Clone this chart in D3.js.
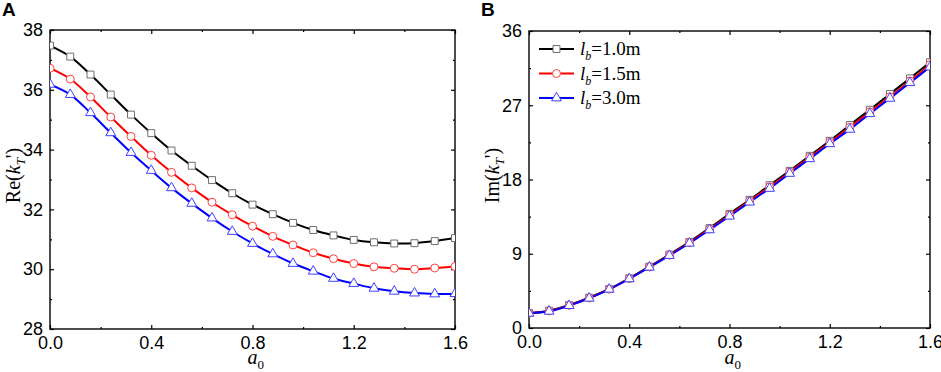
<!DOCTYPE html>
<html>
<head>
<meta charset="utf-8">
<script src="https://cdn.jsdelivr.net/npm/d3@7"></script>
<style>
  body { margin: 0; background: #fff; }
  svg { display: block; }
  .tick text { font-family: "Liberation Sans", Arial, sans-serif; font-size: 18px; fill: #000; }
</style>
</head>
<body>
<div id="chart"></div>
<script>
// a0 values (marker positions)
const a0 = [0, 0.08, 0.16, 0.24, 0.32, 0.40, 0.48, 0.56, 0.64, 0.72, 0.80,
            0.88, 0.96, 1.04, 1.12, 1.20, 1.28, 1.36, 1.44, 1.52, 1.60];

// Panel A: Re(kT')
const reLb10 = [37.48, 37.11, 36.51, 35.84, 35.17, 34.55, 33.97, 33.46, 32.98, 32.54, 32.16,
                31.84, 31.55, 31.31, 31.13, 30.98, 30.90, 30.86, 30.87, 30.94, 31.04];
const reLb15 = [36.72, 36.36, 35.76, 35.09, 34.44, 33.81, 33.24, 32.72, 32.24, 31.82, 31.44,
                31.10, 30.81, 30.55, 30.35, 30.19, 30.08, 30.03, 30.00, 30.04, 30.09];
const reLb30 = [36.18, 35.84, 35.23, 34.56, 33.90, 33.30, 32.72, 32.20, 31.71, 31.26, 30.86,
                30.51, 30.19, 29.93, 29.69, 29.52, 29.36, 29.26, 29.20, 29.17, 29.18];

// Panel B: Im(kT')
const imLb10 = [1.82, 2.10, 2.79, 3.68, 4.73, 6.03, 7.44, 8.90, 10.44, 12.10, 13.83,
                15.53, 17.31, 19.05, 20.87, 22.69, 24.60, 26.46, 28.36, 30.26, 32.20];
const imLb15 = [1.80, 2.06, 2.75, 3.64, 4.71, 5.99, 7.40, 8.84, 10.35, 12.00, 13.69,
                15.39, 17.11, 18.89, 20.69, 22.51, 24.33, 26.21, 28.03, 29.94, 31.92];
const imLb30 = [1.78, 2.02, 2.71, 3.60, 4.69, 5.95, 7.36, 8.78, 10.27, 11.89, 13.55,
                15.25, 16.91, 18.73, 20.51, 22.33, 24.07, 25.97, 27.83, 29.73, 31.63];

const seriesNames = ["1.0m", "1.5m", "3.0m"];
const lineColors = ["#000000", "#ff0000", "#0000ff"];
const markerColors = ["#6e6e6e", "#ff4040", "#4040ff"];
const markerTypes = [d3.symbolSquare, d3.symbolCircle, d3.symbolTriangle];
const markerSizes = [48, 50, 42];

const xTicks = [0, 0.4, 0.8, 1.2, 1.6];
const reTicks = [28, 30, 32, 34, 36, 38];
const imTicks = [0, 9, 18, 27, 36];

const svg = d3.select("#chart").append("svg")
  .attr("width", 941)
  .attr("height", 372);

function drawPanel(opts) {
  const { left, right, top, bottom, yDomain, yTicks, series, letter, yLabel } = opts;
  const g = svg.append("g");

  const x = d3.scaleLinear().domain([0, 1.6]).range([left, right]);
  const y = d3.scaleLinear().domain(yDomain).range([bottom, top]);

  const yStep = yTicks[1] - yTicks[0];
  const xMinor = d3.range(0.2, 1.6, 0.4);
  const yMinor = yTicks.slice(0, -1).map(v => v + yStep / 2);

  // bottom axis with labels
  g.append("g")
    .attr("transform", `translate(0,${bottom})`)
    .call(d3.axisBottom(x).tickValues(xTicks).tickFormat(d3.format(".1f"))
      .tickSizeInner(-4).tickSizeOuter(0).tickPadding(7))
    .call(a => a.select(".domain").remove());
  g.append("g")
    .attr("transform", `translate(0,${bottom})`)
    .call(d3.axisBottom(x).tickValues(xMinor).tickFormat("").tickSizeInner(-2).tickSizeOuter(0))
    .call(a => a.select(".domain").remove());
  // top ticks
  g.append("g")
    .attr("transform", `translate(0,${top})`)
    .call(d3.axisTop(x).tickValues(xTicks).tickFormat("").tickSizeInner(-4).tickSizeOuter(0))
    .call(a => a.select(".domain").remove());
  g.append("g")
    .attr("transform", `translate(0,${top})`)
    .call(d3.axisTop(x).tickValues(xMinor).tickFormat("").tickSizeInner(-2).tickSizeOuter(0))
    .call(a => a.select(".domain").remove());

  // left axis with labels
  g.append("g")
    .attr("transform", `translate(${left},0)`)
    .call(d3.axisLeft(y).tickValues(yTicks).tickFormat(d3.format("d"))
      .tickSizeInner(-4).tickSizeOuter(0).tickPadding(7))
    .call(a => a.select(".domain").remove());
  g.append("g")
    .attr("transform", `translate(${left},0)`)
    .call(d3.axisLeft(y).tickValues(yMinor).tickFormat("").tickSizeInner(-2).tickSizeOuter(0))
    .call(a => a.select(".domain").remove());
  // right ticks
  g.append("g")
    .attr("transform", `translate(${right},0)`)
    .call(d3.axisRight(y).tickValues(yTicks).tickFormat("").tickSizeInner(-4).tickSizeOuter(0))
    .call(a => a.select(".domain").remove());
  g.append("g")
    .attr("transform", `translate(${right},0)`)
    .call(d3.axisRight(y).tickValues(yMinor).tickFormat("").tickSizeInner(-2).tickSizeOuter(0))
    .call(a => a.select(".domain").remove());

  g.selectAll(".tick line").attr("stroke", "#000").attr("stroke-width", 1.2);

  // frame
  g.append("rect")
    .attr("x", left).attr("y", top)
    .attr("width", right - left).attr("height", bottom - top)
    .attr("fill", "none").attr("stroke", "#000").attr("stroke-width", 1.4);

  // clip for the curves
  const clipId = "clip-" + letter;
  g.append("clipPath").attr("id", clipId)
    .append("rect").attr("x", left).attr("y", top)
    .attr("width", right - left).attr("height", bottom - top);

  const line = d3.line()
    .x((d, i) => x(a0[i]))
    .y(d => y(d))
    .curve(d3.curveCatmullRom.alpha(0.5));

  const plot = g.append("g").attr("clip-path", `url(#${clipId})`);

  series.forEach((vals, s) => {
    plot.append("path")
      .datum(vals)
      .attr("d", line)
      .attr("fill", "none")
      .attr("stroke", lineColors[s])
      .attr("stroke-width", 2);
  });
  series.forEach((vals, s) => {
    plot.selectAll(null)
      .data(vals)
      .enter().append("path")
      .attr("transform", (d, i) => `translate(${x(a0[i])},${y(d)})`)
      .attr("d", d3.symbol().type(markerTypes[s]).size(markerSizes[s]))
      .attr("fill", "#fff")
      .attr("stroke", markerColors[s])
      .attr("stroke-width", 1);
  });

  // panel letter
  g.append("text")
    .attr("x", left - 48)
    .attr("y", 16)
    .style("font-family", "'Liberation Sans', Arial, sans-serif")
    .style("font-weight", "bold")
    .style("font-size", "19px")
    .text(letter);

  // x axis title: a0
  const xt = g.append("text")
    .attr("x", (left + right) / 2 - 5)
    .attr("y", 364)
    .style("font-family", "'Liberation Serif', 'Times New Roman', serif")
    .style("font-size", "20px");
  xt.append("tspan").style("font-style", "italic").text("a");
  xt.append("tspan").attr("dy", 5).style("font-size", "13px").text("0");

  // y axis title
  const yt = g.append("text")
    .attr("transform", `translate(${left - 30},${(top + bottom) / 2 - 4}) rotate(-90)`)
    .attr("text-anchor", "middle")
    .style("font-family", "'Liberation Serif', 'Times New Roman', serif")
    .style("font-size", "20px");
  yt.append("tspan").text(yLabel + "(");
  yt.append("tspan").style("font-style", "italic").text("k");
  yt.append("tspan").attr("dy", 5).style("font-style", "italic").style("font-size", "13px").text("T");
  yt.append("tspan").attr("dy", -5).text("')");

  return { g, x, y };
}

drawPanel({
  left: 50, right: 455, top: 30, bottom: 329,
  yDomain: [28, 38], yTicks: reTicks,
  series: [reLb10, reLb15, reLb30], letter: "A", yLabel: "Re"
});

const pB = drawPanel({
  left: 529, right: 930, top: 31, bottom: 328,
  yDomain: [0, 36], yTicks: imTicks,
  series: [imLb10, imLb15, imLb30], letter: "B", yLabel: "Im"
});

// legend in panel B
const legend = pB.g.append("g");
seriesNames.forEach((name, s) => {
  const ly = 49 + s * 24.5;
  legend.append("line")
    .attr("x1", 539).attr("x2", 574).attr("y1", ly).attr("y2", ly)
    .attr("stroke", lineColors[s]).attr("stroke-width", 2);
  legend.append("path")
    .attr("transform", `translate(556.5,${ly})`)
    .attr("d", d3.symbol().type(markerTypes[s]).size(markerSizes[s]))
    .attr("fill", "#fff").attr("stroke", markerColors[s]).attr("stroke-width", 1);
  const t = legend.append("text")
    .attr("x", 580).attr("y", ly + 6)
    .style("font-family", "'Liberation Serif', 'Times New Roman', serif")
    .style("font-size", "19px");
  t.append("tspan").style("font-style", "italic").text("l");
  t.append("tspan").attr("dy", 5).style("font-style", "italic").style("font-size", "12px").text("b");
  t.append("tspan").attr("dy", -5).text("=" + name);
});
</script>
</body>
</html>
